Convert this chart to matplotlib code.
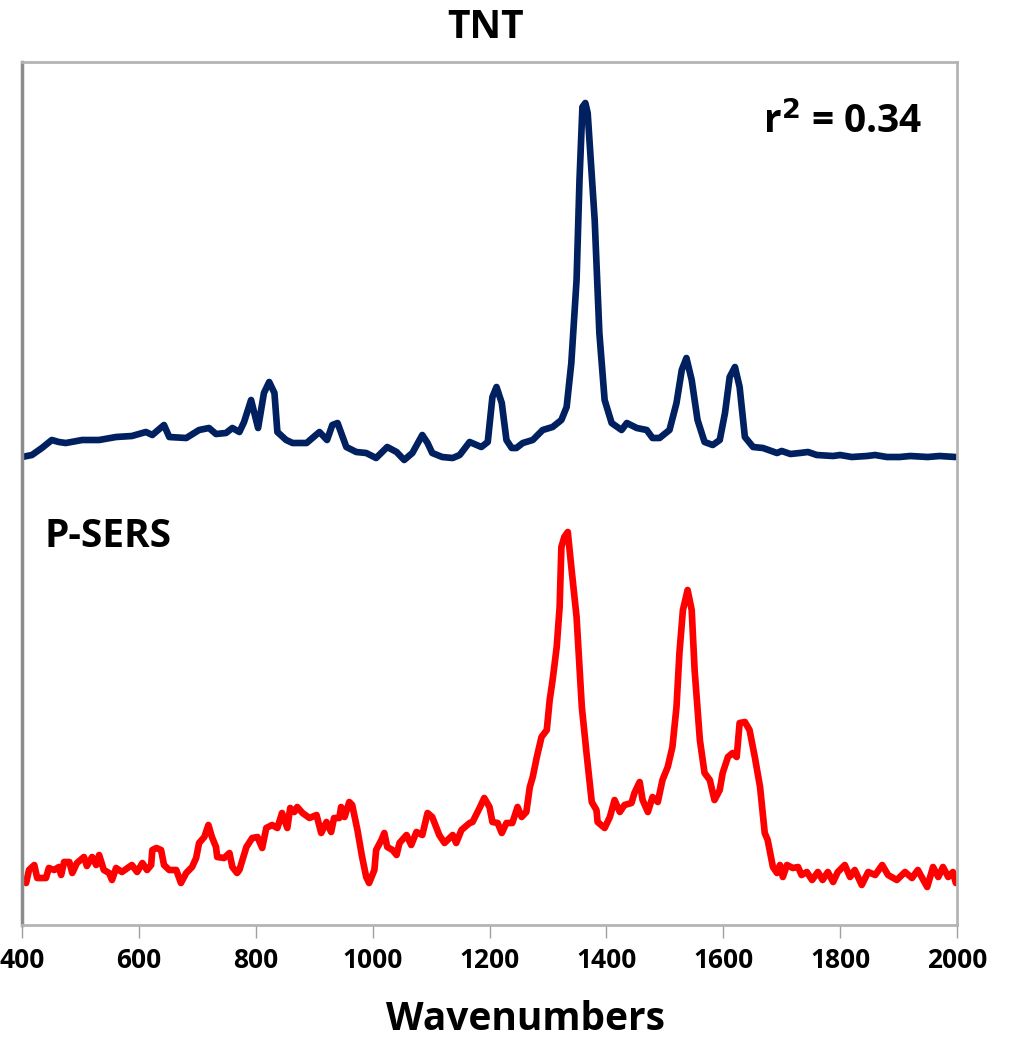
import matplotlib
matplotlib.use("Agg")
import matplotlib.pyplot as plt

plt.rcParams['font.family'] = ['Open Sans', 'DejaVu Sans']

# TNT reference spectrum (blue), arbitrary intensity units
tntWn = [400, 417, 434, 451, 463, 475, 503, 532, 561, 588, 612, 623, 643, 652, 681,
         703, 720, 732, 749, 760, 772, 780, 792, 804, 814, 823, 832, 837, 852, 863,
         887, 897, 909, 922, 931, 940, 955, 972, 989, 1006, 1025, 1041, 1054, 1068,
         1085, 1094, 1102, 1119, 1137, 1149, 1166, 1186, 1197, 1205, 1212, 1221,
         1229, 1238, 1246, 1257, 1274, 1291, 1308, 1323, 1332, 1340, 1349, 1354,
         1359, 1364, 1368, 1380, 1388, 1397, 1409, 1426, 1435, 1452, 1469, 1479,
         1491, 1508, 1520, 1529, 1537, 1546, 1556, 1568, 1582, 1594, 1603, 1611,
         1620, 1628, 1637, 1651, 1668, 1692, 1700, 1715, 1731, 1745, 1760, 1788,
         1800, 1820, 1846, 1860, 1880, 1902, 1920, 1950, 1970, 1997]
tntInt = [468, 470, 477, 485, 483, 482, 485, 485, 488, 489, 493, 490, 500, 488, 487,
          495, 497, 491, 492, 497, 493, 503, 525, 497, 532, 543, 532, 493, 485, 482,
          482, 487, 493, 485, 500, 502, 478, 473, 472, 467, 478, 473, 465, 472,
          490, 482, 472, 468, 467, 470, 483, 478, 483, 528, 538, 522,
          485, 477, 477, 482, 485, 495, 498, 505, 518, 562, 645, 745,
          818, 822, 812, 705, 592, 525, 502, 495, 502, 497, 495, 487,
          487, 495, 522, 555, 567, 545, 505, 483, 480, 485, 512, 548,
          558, 538, 488, 478, 477, 472, 474, 471, 472, 473, 470, 469,
          470, 468, 469, 470, 468, 468, 469, 468, 469, 468]

# P-SERS spectrum (red)
sersWn = [400, 407, 412, 421, 426, 441, 446, 455, 463, 467, 472, 481, 486, 494, 506,
          511, 520, 527, 532, 540, 549, 554, 561, 571, 588, 597, 606, 614, 621, 623,
          630, 638, 643, 652, 664, 672, 681, 691, 698, 703, 712, 719, 725, 732, 734,
          746, 755, 760, 768, 772, 784, 794, 803, 811, 818, 828, 837, 845, 854, 859,
          866, 871, 880, 892, 904, 912, 921, 929, 934, 943, 946, 952, 960, 965, 974,
          982, 989, 994, 1003, 1006, 1015, 1020, 1025, 1034, 1041, 1046, 1058, 1066,
          1075, 1085, 1094, 1102, 1114, 1123, 1137, 1143, 1152, 1166, 1171, 1183,
          1191, 1200, 1205, 1214, 1221, 1229, 1239, 1248, 1255, 1263, 1269, 1274,
          1281, 1289, 1298, 1303, 1308, 1315, 1320, 1323, 1328, 1334, 1340, 1349,
          1358, 1366, 1375, 1383, 1385, 1397, 1406, 1414, 1423, 1431, 1443, 1448,
          1457, 1462, 1471, 1479, 1488, 1496, 1505, 1513, 1520, 1525, 1531, 1539,
          1546, 1551, 1560, 1568, 1577, 1585, 1594, 1599, 1608, 1616, 1623, 1628,
          1637, 1645, 1654, 1663, 1671, 1676, 1685, 1692, 1697, 1702, 1709, 1719,
          1728, 1734, 1743, 1752, 1762, 1770, 1779, 1788, 1796, 1808, 1817, 1825,
          1837, 1848, 1860, 1872, 1882, 1897, 1911, 1923, 1933, 1949, 1959, 1968,
          1976, 1985, 1993, 1998]
sersInt = [45, 42, 55, 60, 47, 47, 57, 55, 58, 50, 63, 63, 52, 62, 68,
           59, 68, 60, 70, 55, 52, 45, 57, 53, 60, 53, 62, 55, 60, 75,
           77, 75, 60, 55, 55, 42, 52, 58, 67, 82, 88, 100, 88, 78, 68,
           67, 72, 58, 52, 55, 78, 87, 88, 77, 97, 100, 97, 112, 97, 117,
           113, 118, 112, 107, 110, 92, 103, 93, 107, 107, 118, 108, 123, 120, 95,
           68, 48, 42, 55, 75, 85, 92, 78, 75, 70, 82, 90, 80,
           93, 90, 112, 108, 90, 82, 90, 82, 95, 102, 103, 117,
           127, 118, 103, 102, 92, 102, 102, 118, 108, 113, 138, 148,
           168, 188, 195, 225, 245, 278, 318, 378, 388, 393, 358, 308,
           218, 172, 123, 115, 103, 97, 108, 125, 113, 120, 122, 132,
           143, 125, 113, 128, 123, 145, 158, 178, 218, 272, 315, 335,
           315, 255, 185, 152, 145, 125, 135, 152, 168, 172, 168, 202,
           203, 195, 168, 138, 92, 85, 58, 52, 60, 48, 60, 57,
           58, 50, 53, 45, 53, 45, 53, 43, 53, 60, 48, 55,
           40, 53, 50, 60, 50, 45, 53, 47, 55, 38, 58, 48,
           58, 48, 53, 42]

xTicks = [400, 600, 800, 1000, 1200, 1400, 1600, 1800, 2000]

fig = plt.figure(figsize=(10.29, 10.38), dpi=100)
ax = fig.add_axes([22 / 1029, 113 / 1038, 935 / 1029, 863 / 1038])

ax.plot(tntWn, tntInt, color='#002060', lw=4.8, solid_joinstyle='round', solid_capstyle='round')
ax.plot(sersWn, sersInt, color='#ff0000', lw=4.8, solid_joinstyle='round', solid_capstyle='round')

ax.set_xlim(400, 2000)
ax.set_ylim(0, 863)
ax.set_yticks([])
ax.set_xticks(xTicks)
ax.set_xticklabels([str(t) for t in xTicks], fontsize=19, fontweight='bold')
ax.tick_params(axis='x', direction='out', length=9.5, width=1, color='#a0a0a0', pad=6)

for side in ('top', 'right', 'bottom'):
    ax.spines[side].set_color('#b4b4b4')
    ax.spines[side].set_linewidth(2)
ax.spines['left'].set_color('#8c8c8c')
ax.spines['left'].set_linewidth(2.5)

ax.text(1940, 792, 'r$^{\\mathbf{2}}$ = 0.34', fontsize=28, fontweight='bold',
        ha='right', va='baseline')
ax.text(438, 378, 'P-SERS', fontsize=28, fontweight='bold', ha='left', va='baseline')

fig.text(486 / 1029, 1 - 38 / 1038, 'TNT', fontsize=28, fontweight='bold',
         ha='center', va='baseline')
fig.text(526 / 1029, 1 - 1030 / 1038, 'Wavenumbers', fontsize=28, fontweight='bold',
         ha='center', va='baseline')

fig.savefig('out.png', dpi=100)
